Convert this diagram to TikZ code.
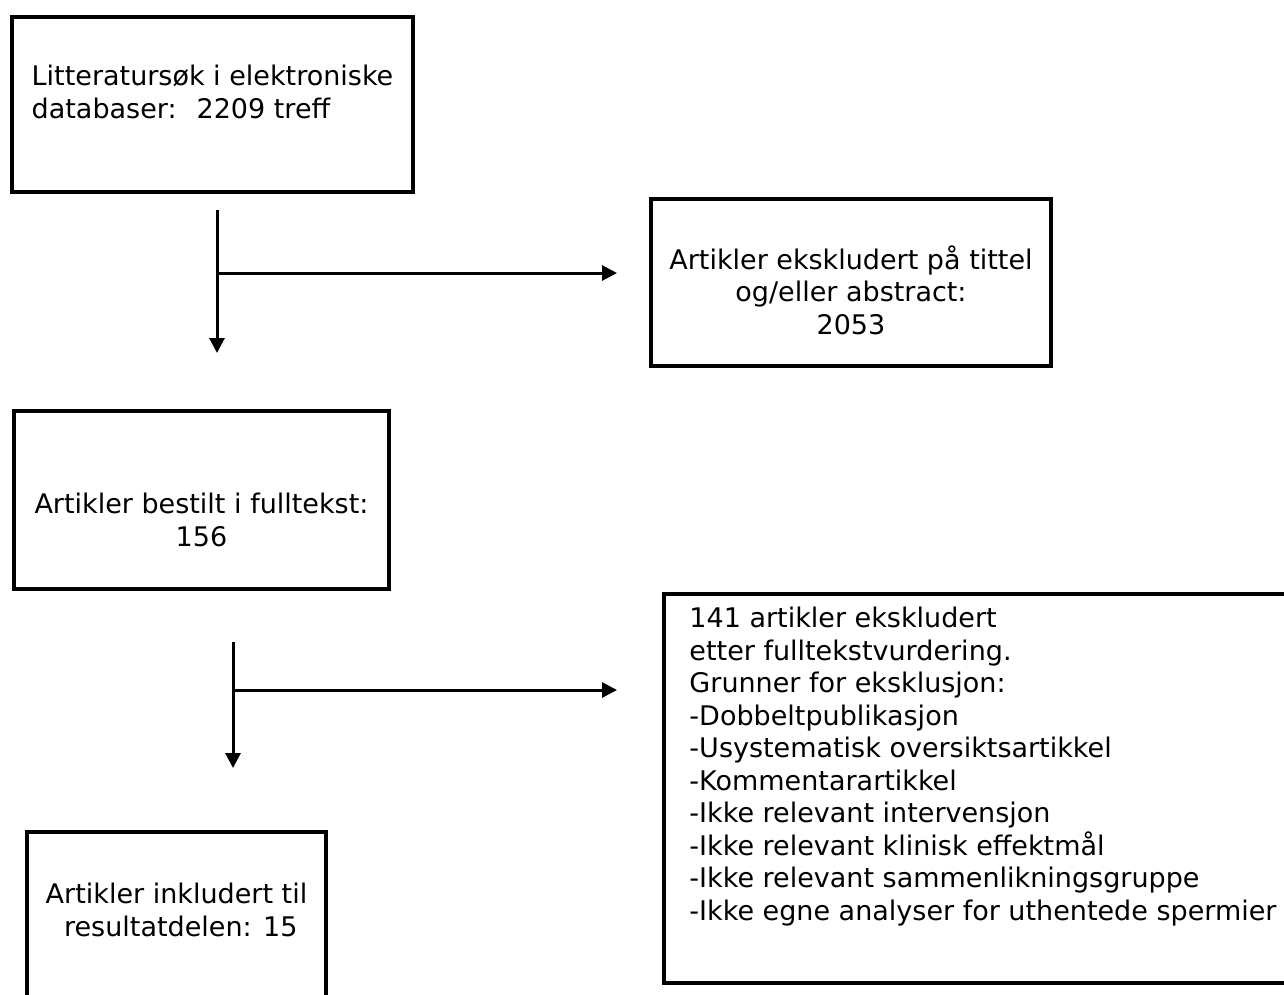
\documentclass[tikz,border=0pt]{standalone}
\usepackage{fontspec}
\setmainfont{DejaVu Sans}
\usetikzlibrary{arrows.meta}

\begin{document}
\begin{tikzpicture}[x=1pt,y=-1pt,
    box/.style={draw,line width=4pt,inner sep=0pt,font=\fontsize{27}{32.5}\selectfont},
    arrow/.style={line width=3pt,-{Triangle[length=15pt,width=15pt]}}]
      \path[use as bounding box] (0,0) rectangle (1284,994);
      \clip (0,0) rectangle (1284,994);
      \node[box,align=left,minimum width=401pt,minimum height=175pt,text height=27pt,text depth=0pt] (search) at (212.5,104.5) {Litteratursøk i elektroniske\\databaser:~ 2209 treff};
      \node[box,align=center,minimum width=400pt,minimum height=167pt,text height=103pt,text depth=0pt] (abstract) at (851,282.5) {Artikler ekskludert på tittel\\og/eller abstract:\\2053};
      \node[box,align=center,minimum width=375pt,minimum height=178pt,text height=92pt,text depth=0pt] (fulltext) at (201.5,500) {Artikler bestilt i fulltekst:\\156};
      \node[box,align=left,minimum width=638pt,minimum height=389pt,text height=263pt,text depth=0pt] (excluded) at (983,788.5) {141 artikler ekskludert\\etter fulltekstvurdering.\\Grunner for eksklusjon:\\-Dobbeltpublikasjon\\-Usystematisk oversiktsartikkel\\-Kommentarartikkel\\-Ikke relevant intervensjon\\-Ikke relevant klinisk effektmål\\-Ikke relevant sammenlikningsgruppe\\-Ikke egne analyser for uthentede spermier};
      \node[box,align=center,minimum width=299pt,minimum height=174pt,text height=34pt,text depth=0pt] (included) at (176.5,919) {Artikler inkludert til\\\ resultatdelen: 15};
      \coordinate (down1) at (217,210);
      \coordinate (end1) at (217,353);
      \coordinate (fork1) at (217,273);
      \coordinate (side1) at (617,273);
      \coordinate (down2) at (233,642);
      \coordinate (end2) at (233,768);
      \coordinate (fork2) at (233,690);
      \coordinate (side2) at (617,690);
      \draw[arrow] (down1) -- (end1);
      \draw[arrow] (fork1) -- (side1);
      \draw[arrow] (down2) -- (end2);
      \draw[arrow] (fork2) -- (side2);
\end{tikzpicture}
\end{document}
